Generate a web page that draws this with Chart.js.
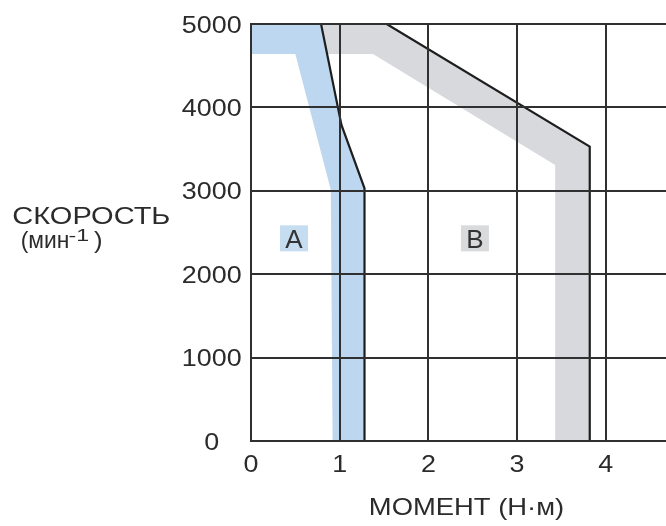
<!DOCTYPE html>
<html>
<head>
<meta charset="utf-8">
<script src="https://cdn.jsdelivr.net/npm/chart.js@4"></script>
<style>
  body { margin: 0; background: #fff; }
  #wrap { width: 666px; height: 526px; }
</style>
</head>
<body>
<div id="wrap"><canvas id="torqueChart" width="666" height="526"></canvas></div>
<script>
// Axis ticks
const torqueTicks = [0, 1, 2, 3, 4];
const speedTicks = [0, 1000, 2000, 3000, 4000, 5000];

// Boundary curves (torque N·m, speed min-1)
const curveAx = [0.79, 1.02, 1.28, 1.28];
const curveAy = [5000, 3790, 3030, 0];
const curveBx = [1.53, 3.82, 3.82];
const curveBy = [5000, 3530, 0];

// Shaded zones
const zoneAx = [0, 0.79, 1.02, 1.28, 1.28, 0.92, 0.90, 0.50, 0];
const zoneAy = [5000, 5000, 3790, 3030, 0, 0, 3010, 4640, 4640];
const zoneBx = [0.79, 1.53, 3.82, 3.82, 3.43, 3.43, 1.375, 0.857];
const zoneBy = [5000, 5000, 3530, 0, 0, 3310, 4640, 4640];

// Zone labels
const zoneNames = ['A', 'B'];
const zoneNameX = [0.485, 2.525];
const zoneNameY = [2430, 2430];

const toPoints = (xs, ys) => xs.map((x, i) => ({x: x, y: ys[i]}));

const gridColor = '#303030';
const textColor = '#2b2b2b';
const textFont = '24px "Liberation Sans"';
const digitStretch = 1.12;

// text squeezed/stretched to a given ink width
function fitText(ctx, text, left, baseline, inkWidth, font) {
    ctx.font = font;
    const m = ctx.measureText(text);
    const w = m.actualBoundingBoxLeft + m.actualBoundingBoxRight;
    const sx = inkWidth / w;
    ctx.save();
    ctx.translate(left, baseline);
    ctx.scale(sx, 1);
    ctx.textAlign = 'left';
    ctx.textBaseline = 'alphabetic';
    ctx.fillText(text, m.actualBoundingBoxLeft, 0);
    ctx.restore();
}

function centerText(ctx, text, cx, baseline, sx) {
    ctx.save();
    ctx.translate(cx, baseline);
    ctx.scale(sx, 1);
    ctx.textAlign = 'center';
    ctx.textBaseline = 'alphabetic';
    ctx.fillText(text, 0, 0);
    ctx.restore();
}

// Tick labels, axis titles and zone labels
const annotations = {
    id: 'annotations',
    afterDraw(chart) {
        const ctx = chart.ctx;
        const xs = chart.scales.x, ys = chart.scales.y;
        ctx.save();
        ctx.fillStyle = textColor;
        ctx.font = textFont;
        xs.ticks.forEach(t => {
            centerText(ctx, String(t.value), xs.getPixelForValue(t.value), 472, digitStretch);
        });
        ys.ticks.forEach(t => {
            centerText(ctx, String(t.value), 211.7, ys.getPixelForValue(t.value) + 8.6, digitStretch);
        });

        fitText(ctx, 'СКОРОСТЬ', 13.5, 223.5, 156, textFont);
        fitText(ctx, '(мин', 21.7, 248, 46.5, textFont);
        fitText(ctx, '-1', 68.5, 241, 20, '17px "Liberation Sans"');
        fitText(ctx, ')', 94, 248, 7.5, textFont);
        fitText(ctx, 'МОМЕНТ (Н·м)', 370, 515, 193, textFont);

        const boxColors = ['#c6dcf0', '#d9dadc'];
        zoneNames.forEach((name, i) => {
            const cx = xs.getPixelForValue(zoneNameX[i]);
            const cy = ys.getPixelForValue(zoneNameY[i]);
            ctx.fillStyle = boxColors[i];
            ctx.fillRect(cx - 14, cy - 13, 28, 26);
            ctx.fillStyle = '#333';
            ctx.font = '26px "Liberation Sans"';
            centerText(ctx, name, cx, cy + 9.5, 1.0);
        });
        ctx.restore();
    }
};

const ctx = document.getElementById('torqueChart').getContext('2d');
const torqueChart = new Chart(ctx, {
    type: 'scatter',
    data: {
        datasets: [
            {
                data: toPoints(curveAx, curveAy),
                showLine: true,
                borderColor: '#1e1e1e',
                borderWidth: 2.2,
                pointRadius: 0,
                fill: false
            },
            {
                data: toPoints(curveBx, curveBy),
                showLine: true,
                borderColor: '#1e1e1e',
                borderWidth: 2.2,
                pointRadius: 0,
                fill: false
            },
            {
                data: toPoints(zoneAx, zoneAy),
                showLine: true,
                borderColor: 'transparent',
                borderWidth: 0,
                backgroundColor: '#bed7f0',
                pointRadius: 0,
                fill: 'shape'
            },
            {
                data: toPoints(zoneBx, zoneBy),
                showLine: true,
                borderColor: 'transparent',
                borderWidth: 0,
                backgroundColor: '#d7d9dc',
                pointRadius: 0,
                fill: 'shape'
            }
        ]
    },
    options: {
        responsive: false,
        animation: false,
        devicePixelRatio: 1,
        layout: { padding: { left: 0, top: 24, right: 0, bottom: 0 } },
        plugins: {
            legend: { display: false },
            tooltip: { enabled: false }
        },
        scales: {
            x: {
                type: 'linear',
                min: 0,
                max: 4.68,
                afterBuildTicks(scale) {
                    scale.ticks = torqueTicks.map(v => ({value: v}));
                },
                afterFit(scale) { scale.height = 85; },
                grid: { color: gridColor, lineWidth: 2, drawTicks: false, z: 1 },
                border: { color: gridColor, width: 2, z: 2 },
                ticks: { display: false }
            },
            y: {
                min: 0,
                max: 5000,
                afterBuildTicks(scale) {
                    scale.ticks = speedTicks.map(v => ({value: v}));
                },
                afterFit(scale) { scale.width = 251; },
                grid: { color: gridColor, lineWidth: 2, drawTicks: false, z: 1 },
                border: { color: gridColor, width: 2, z: 2 },
                ticks: { display: false }
            }
        }
    },
    plugins: [annotations]
});
</script>
</body>
</html>
